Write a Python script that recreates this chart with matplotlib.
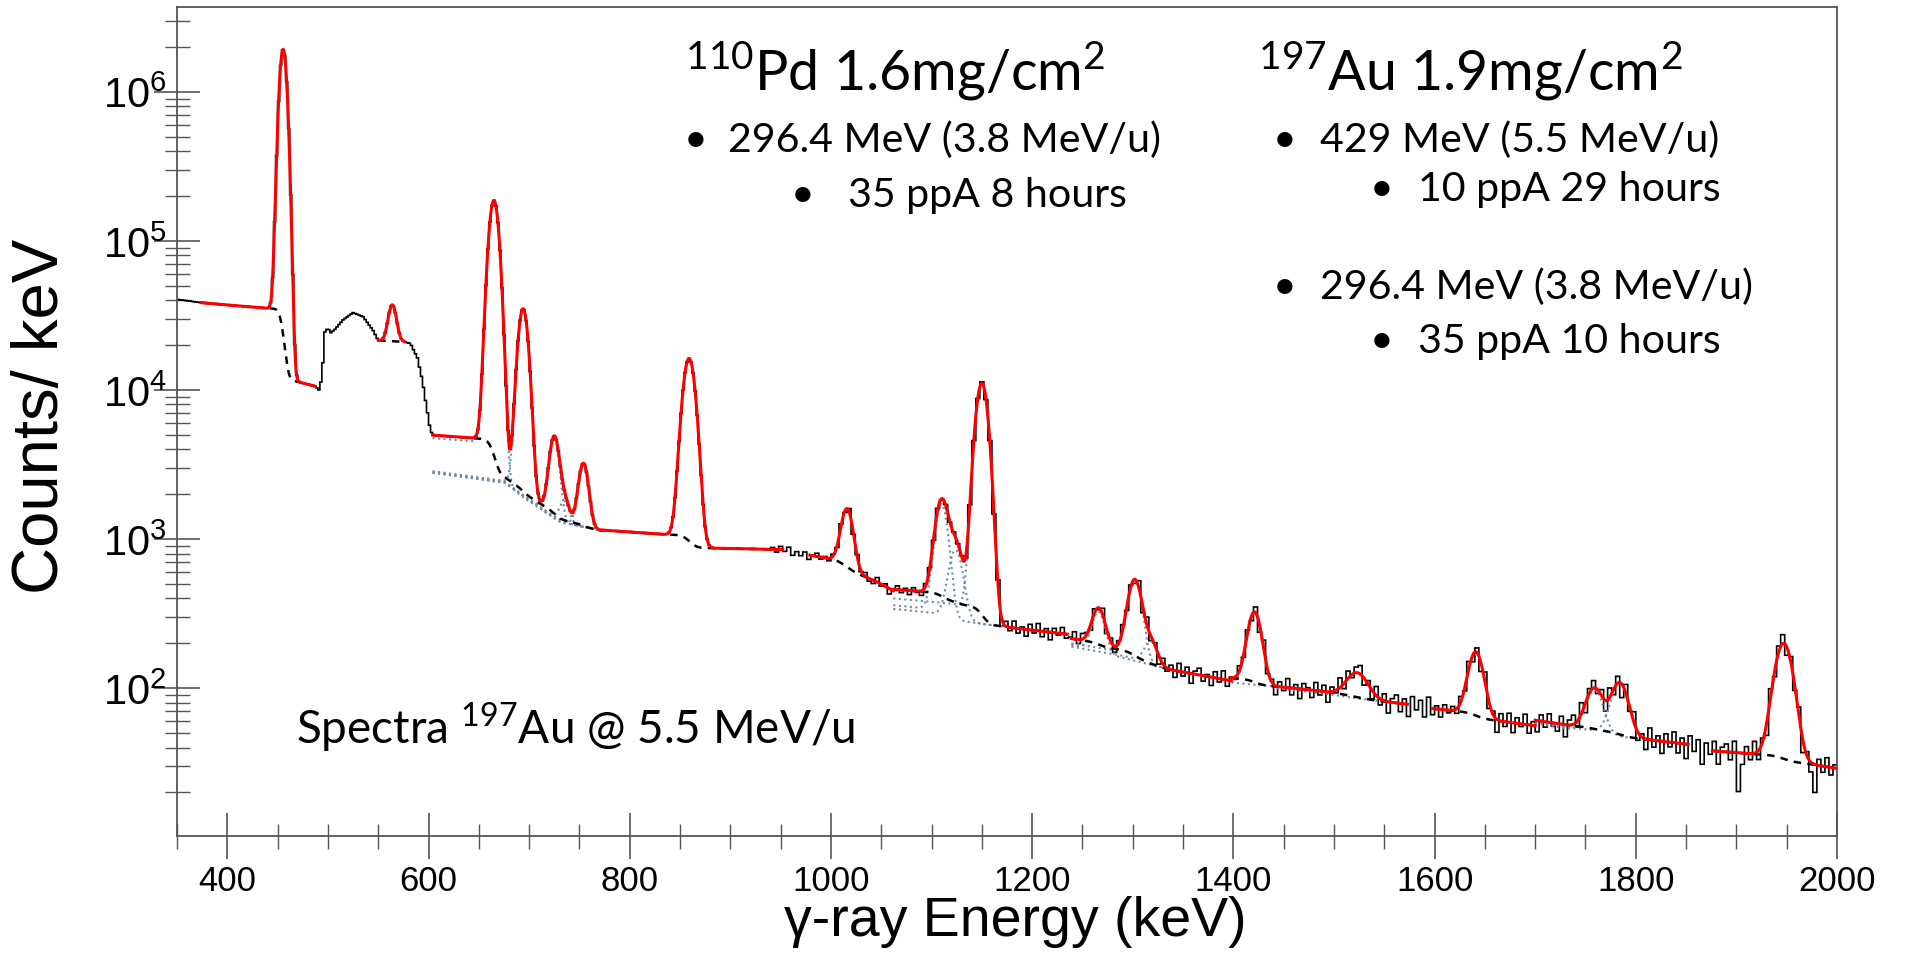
import math
import numpy as np
import matplotlib
matplotlib.use("Agg")
import matplotlib.pyplot as plt
from matplotlib.ticker import MultipleLocator, LogLocator, NullFormatter

# fitted gamma lines: centroid (keV), height (counts/keV), sigma (keV), background step
peak_pos = [455.5, 564, 665, 694, 725, 735, 754, 859, 1016, 1110, 1124, 1150,
            1266, 1302, 1318, 1421, 1523, 1641, 1759, 1784, 1947]
peak_amp = [1.9e6, 16000, 183000, 33000, 3400, 500, 2000, 15300, 950, 1400, 550, 10800,
            150, 370, 60, 215, 40, 110, 47, 60, 166]
peak_sigma = [3.5, 3.8, 4.8, 4.8, 4.5, 4.5, 4.5, 5.8, 5.5, 6.0, 6.5, 5.8,
              6.0, 6.5, 6.0, 6.5, 10.0, 7.0, 8.0, 8.0, 8.5]
peak_step = [23000, 0, 2000, 100, 60, 30, 40, 190, 40, 40, 20, 80,
             10, 15, 5, 8, 3, 5, 2, 3, 3]

# fit regions and the peaks inside each one
fit_ranges = [(374, 487), (550, 576), (604, 772), (772, 952), (979, 1062), (1062, 1235),
              (1239, 1398), (1398, 1573), (1598, 1700), (1700, 1852), (1876, 2000)]
fit_peaks = [[0], [1], [2, 3, 4, 5, 6], [7], [8], [9, 10, 11],
             [12, 13, 14], [15, 16], [17], [18, 19], [20]]
# smooth background under each region (without the steps)
base_E = [[374, 440, 460, 487], [550, 576], [604, 640, 676, 697, 731, 772],
          [772, 838, 880, 952], [979, 1003, 1028, 1045, 1062], [1062, 1100, 1150, 1200, 1235],
          [1239, 1290, 1340, 1398], [1398, 1440, 1480, 1520, 1573], [1598, 1650, 1700],
          [1700, 1736, 1776, 1802, 1852], [1876, 1922, 1965, 2000]]
base_counts = [[15500, 12300, 11800, 10600], [21500, 21000], [2750, 2550, 2350, 1850, 1300, 1140],
               [960, 880, 870, 850], [740, 690, 580, 520, 450], [320, 300, 270, 245, 230],
               [185, 160, 132, 112], [106, 100, 94, 86, 78], [68, 62, 56],
               [56, 51, 48, 46, 42], [35, 33, 31.5, 29]]

# measured spectrum where no fit was drawn
gap_E = [350, 362, 374, 487, 491, 494, 497, 500, 503, 507, 515, 525, 535, 545, 550,
         576, 582, 589, 594, 597, 601, 604, 952, 965, 979, 1235, 1239, 1573, 1598, 1852, 1876]
gap_counts = [40500, 39500, 38500, 10700, 10000, 12000, 24500, 26000, 24200, 25500, 29500,
              33000, 31000, 25000, 21500, 21000, 20500, 16400, 11500, 8500, 5800, 4900,
              850, 810, 775, 232, 195, 78, 73, 42, 38]

# bin-by-bin scatter of the data (percent), 4 keV bins from 940 keV
noise_pct = [
    3, -4, 5, -2, 6, -5, 2, -3, 4, -6, 1, 5, -3, 2, -4, 3, -2, 4, -3, 5, -5, 2, -1, 6, -4,
    -5, 7, -3, 4, -8, 2, 6, -4, 3, -6, 5, -2, -7, 4, 2, -3, 3, -2, 1, -2, 2, -1, 2, -3, 1,
    1, -1, 2, -2, 3, -4, 6, -9, 8, -5, 11, -7, 3, -10, 9, -4, 12, -8, 5, -11, 7, -3, 10, -6, 8,
    12, -6, 9, 4, -8, 6, -3, 10, -7, 5, -9, 4, 8, -5, 3, -6, 11, -9, 13, -7, 4, -12, 9, -5, 7,
    -10, 13, -6, 9, -14, 5, 11, -8, 3, -12, 10, -5, 14, -9, 6, -4, 8, -3, 5, -7, 9, -11, 12, -6, 4,
    -13, 8, -5, 15, -10, 6, -14, 9, 3, -11, 13, -6, 10, -15, 7, -4, 16, -8, 12, -5, 9, 14, -10, 6, -12,
    15, -9, 11, -16, 6, 13, -12, 8, -17, 14, -6, 10, -14, 18, -9, 5, -11, 8, -4, 6, -7, 9, -5, 12, -10,
    7, -13, 16, -10, 5, -18, 12, -7, 15, -14, 9, -4, 17, -12, 6, -16, 10, -8, 14, -5, -11, 13, -17, 8, 15,
    -9, 18, -14, 7, 12, -6, 10, -15, 16, -8, 11, -19, 14, -6, 17, -12, 5, -15, 20, -10, 8, -17, 13, -7, 18,
    -14, 9, -20, 15, -8, 12, -22, 10, -6, 16, -18, 7, 13, -11, 19, -45, -16, 11, -9, 20, -13, 6, -17, 14, -8,
    10, 15, -12, 8, -7, 12, -18, 6, -14, -35, 10, -9, 15, -11, 5,
]

erfc = np.vectorize(math.erfc)


def gauss(e, i):
    return peak_amp[i] * np.exp(-0.5 * ((e - peak_pos[i]) / peak_sigma[i]) ** 2)


def step(e, i):
    return peak_step[i] * 0.5 * erfc((e - peak_pos[i]) / (math.sqrt(2) * peak_sigma[i]))


def base(e, r):
    return 10 ** np.interp(e, base_E[r], np.log10(base_counts[r]))


def background(e, r):
    return base(e, r) + sum(step(e, i) for i in fit_peaks[r])


def fit(e, r):
    return background(e, r) + sum(gauss(e, i) for i in fit_peaks[r])


# data histogram
edges = np.concatenate([np.arange(350, 940, 2), np.arange(940, 2001, 4)])
centres = 0.5 * (edges[:-1] + edges[1:])
counts = np.zeros(len(centres))
for k, c in enumerate(centres):
    for r, (lo, hi) in enumerate(fit_ranges):
        if lo <= c <= hi:
            counts[k] = fit(np.array([c]), r)[0]
            break
    else:
        counts[k] = 10 ** np.interp(c, gap_E, np.log10(gap_counts))
hi_bins = centres >= 940
counts[hi_bins] *= 1 + np.array(noise_pct) / 100.0

plt.rcParams['font.family'] = ['Liberation Sans', 'DejaVu Sans']
plt.rcParams['mathtext.fontset'] = 'custom'
plt.rcParams['mathtext.rm'] = 'Lato'

W, H = 1908, 954
fig = plt.figure(figsize=(W / 100, H / 100), dpi=100)
ax = fig.add_axes([177 / W, 1 - 837 / H, 1660 / W, 829 / H])

ax.stairs(counts, edges, baseline=None, color='black', lw=1.2, zorder=2)
for r, (lo, hi) in enumerate(fit_ranges):
    e = np.linspace(lo, hi, int((hi - lo) * 4) + 1)
    if len(fit_peaks[r]) > 1:
        for i in fit_peaks[r]:
            ax.plot(e, base(e, r) + step(e, i) + gauss(e, i), color='#6f8aa8',
                    ls=':', lw=1.5, zorder=3)
    ax.plot(e, background(e, r), color='black', ls=(0, (3, 2.5)), lw=1.8, zorder=4)
    ax.plot(e, fit(e, r), color='red', lw=2.2, zorder=5)

ax.set_yscale('log')
ax.set_xlim(350, 2000)
ax.set_ylim(10.2, 3.7e6)
ax.xaxis.set_major_locator(MultipleLocator(200))
ax.xaxis.set_minor_locator(MultipleLocator(50))
ax.yaxis.set_major_locator(LogLocator(base=10, numticks=20))
ax.yaxis.set_minor_locator(LogLocator(base=10, subs=np.arange(2, 10), numticks=20))
ax.yaxis.set_minor_formatter(NullFormatter())
for s in ax.spines.values():
    s.set_color('#555555')
    s.set_linewidth(1.3)
ax.tick_params(which='major', direction='inout', length=33, width=1.2, color='#555555')
ax.tick_params(which='minor', direction='inout', length=18, width=1.0, color='#555555')
ax.tick_params(axis='x', labelsize=25, pad=4)
ax.tick_params(axis='y', labelsize=30, pad=-9)

fig.text(1015 / W, 1 - 922 / H, 'γ-ray Energy (keV)', fontsize=40, ha='center', va='center')
fig.text(41 / W, 1 - 416 / H, 'Counts/ keV', fontsize=47, rotation=90, ha='center', va='center')


def note(x, y, s, size):
    fig.text(x / W, 1 - y / H, s, fontsize=size, family='Lato', ha='left', va='baseline')


note(685, 90, r'$^{110}$Pd 1.6mg/cm$^{2}$', 40)
note(684, 152, '•', 29.6)
note(728, 152, '296.4 MeV (3.8 MeV/u)', 29.6)
note(791, 207, '•', 29.6)
note(848, 207, '35 ppA 8 hours', 29.6)

note(1258, 90, r'$^{197}$Au 1.9mg/cm$^{2}$', 40)
note(1273, 152, '•', 29.6)
note(1320, 152, '429 MeV (5.5 MeV/u)', 29.6)
note(1370, 201, '•', 29.6)
note(1418, 201, '10 ppA 29 hours', 29.6)
note(1273, 299, '•', 29.6)
note(1320, 299, '296.4 MeV (3.8 MeV/u)', 29.6)
note(1370, 353, '•', 29.6)
note(1418, 353, '35 ppA 10 hours', 29.6)

note(296, 744, r'Spectra $^{197}$Au @ 5.5 MeV/u', 33)

fig.savefig('out.png', dpi=100)
